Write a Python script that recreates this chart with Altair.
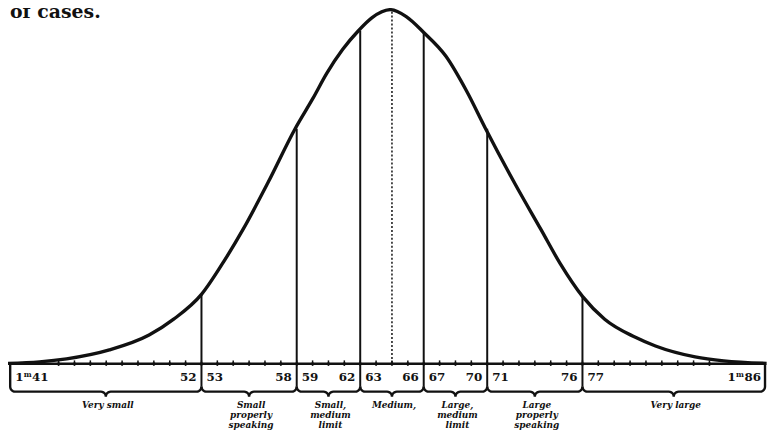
import altair as alt
import pandas as pd
import numpy as np

# ---- data ----
# stature (cm) and relative number of cases (arbitrary units, peak = 357)
curve_v = [140.3, 142.3, 144.0, 146.7, 149.2, 150.75, 152.5, 153.9, 155.1, 156.7,
           158.4, 159.5, 160.4, 161.4, 162.4, 163.25, 164.4, 165.4, 166.5, 167.9,
           169.2, 170.4, 172.3, 173.9, 175.1, 176.5, 177.9, 179.8, 181.1, 183.6,
           185.4, 188.1]
curve_f = [0.5, 2, 5, 14, 29, 45, 70, 103, 135, 183,
           237, 267, 293, 317, 336, 349, 357, 350, 334, 310,
           275, 237, 180, 135, 101, 68, 45, 27, 18, 7,
           3, 0.5]

bounds = [152.5, 158.5, 162.5, 166.5, 170.5, 176.5]
bound_h = [70, 237, 336, 334, 237, 68]
mean_v = 164.5
mean_h = 355
ruler_left, ruler_right = 140.45, 188.0

left_nums = ["52", "58", "62", "66", "70", "76"]
right_nums = ["53", "59", "63", "67", "71", "77"]
end_left, end_right = "1ᵐ41", "1ᵐ86"

group_lines = [["Very small"],
               ["Small", "properly", "speaking"],
               ["Small,", "medium", "limit"],
               ["Medium,"],
               ["Large,", "medium", "limit"],
               ["Large", "properly", "speaking"],
               ["Very large"]]

tick_v = list(np.arange(143.5, 185.0, 1.0))

# ---- scales ----
PX = 16.0  # pixels per cm
xs = alt.Scale(domain=[140.3125, 188.125], nice=False, zero=False)
ys = alt.Scale(domain=[-67, 357], nice=False, zero=False)
X = lambda f="v": alt.X(f"{f}:Q", scale=xs, axis=None)
Y = lambda f="h": alt.Y(f"{f}:Q", scale=ys, axis=None)
INK = "#111111"

curve_df = pd.DataFrame({"v": curve_v, "h": curve_f})
curve = alt.Chart(curve_df).mark_line(color=INK, strokeWidth=3.4, interpolate="monotone").encode(x=X(), y=Y())

# verticals through curve & ruler
vert_df = pd.DataFrame({"v": bounds, "h": bound_h, "h0": [-23] * len(bounds)})
verts = alt.Chart(vert_df).mark_rule(color=INK, strokeWidth=2).encode(x=X(), y=Y(), y2=alt.Y2("h0:Q"))

mean_df = pd.DataFrame({"v": [mean_v], "h": [mean_h], "h0": [0]})
mean_line = alt.Chart(mean_df).mark_rule(color=INK, strokeWidth=1.5, strokeDash=[2, 2]).encode(
    x=X(), y=Y(), y2=alt.Y2("h0:Q"))

# ruler top line
top_df = pd.DataFrame({"v": [ruler_left], "v2": [ruler_right], "h": [0]})
top_line = alt.Chart(top_df).mark_rule(color=INK, strokeWidth=2.5).encode(x=X(), x2=alt.X2("v2:Q"), y=Y())

# ticks
tick_df = pd.DataFrame({"v": tick_v, "h": [3.5] * len(tick_v), "h0": [-2] * len(tick_v), "hc": [0] * len(tick_v)})
ticks = alt.Chart(tick_df).mark_rule(color=INK, strokeWidth=1.5).encode(x=X(), y=Y(), y2=alt.Y2("h0:Q"))
tick_dots = alt.Chart(tick_df).mark_circle(color=INK, size=12, opacity=1).encode(x=X(), y=Y("hc"))

# braces
edges = [ruler_left] + bounds + [ruler_right]
r = 5.0
rv = r / PX
rows = []
for i in range(len(edges) - 1):
    a, b = edges[i], edges[i + 1]
    m = (a + b) / 2
    pts = []
    if i == 0:
        pts.append((a, 0))
    th = np.linspace(np.pi, 1.5 * np.pi, 7)
    pts += [(a + rv + rv * np.cos(t), -23 + r * np.sin(t)) for t in th]
    th = np.linspace(0.5 * np.pi, 0.0, 7)
    pts += [(m - rv + rv * np.cos(t), -33 + r * np.sin(t)) for t in th]
    th = np.linspace(np.pi, 0.5 * np.pi, 7)
    pts += [(m + rv + rv * np.cos(t), -33 + r * np.sin(t)) for t in th]
    th = np.linspace(1.5 * np.pi, 2 * np.pi, 7)
    pts += [(b - rv + rv * np.cos(t), -23 + r * np.sin(t)) for t in th]
    if i == len(edges) - 2:
        pts.append((b, 0))
    for k, (pv, ph) in enumerate(pts):
        rows.append({"v": pv, "h": ph, "seg": i, "o": k})
brace_df = pd.DataFrame(rows)
braces = alt.Chart(brace_df).mark_line(color=INK, strokeWidth=2.4, interpolate="linear").encode(
    x=X(), y=Y(), detail="seg:N", order="o:Q")

# numbers inside ruler
num_font = dict(font="DejaVu Serif", fontWeight="bold", fontSize=12, color=INK, baseline="middle")
ln_df = pd.DataFrame({"v": bounds, "h": [-13] * 6, "t": left_nums})
rn_df = pd.DataFrame({"v": bounds, "h": [-13] * 6, "t": right_nums})
lnum = alt.Chart(ln_df).mark_text(align="right", dx=-5, **num_font).encode(x=X(), y=Y(), text="t:N")
rnum = alt.Chart(rn_df).mark_text(align="left", dx=5, **num_font).encode(x=X(), y=Y(), text="t:N")
e_df = pd.DataFrame({"v": [ruler_left], "h": [-13], "t": [end_left]})
e2_df = pd.DataFrame({"v": [ruler_right], "h": [-13], "t": [end_right]})
enum1 = alt.Chart(e_df).mark_text(align="left", dx=5, **num_font).encode(x=X(), y=Y(), text="t:N")
enum2 = alt.Chart(e2_df).mark_text(align="right", dx=-4, **num_font).encode(x=X(), y=Y(), text="t:N")

# group labels
lab_rows = []
for i, lines in enumerate(group_lines):
    m = (edges[i] + edges[i + 1]) / 2
    for j, t in enumerate(lines):
        lab_rows.append({"v": m, "h": -41 - 10.5 * j, "t": t})
lab_df = pd.DataFrame(lab_rows)
labels = alt.Chart(lab_df).mark_text(font="DejaVu Serif", fontWeight="bold", fontStyle="italic",
                                     fontSize=9, color=INK, baseline="middle", align="center", dx=2).encode(
    x=X(), y=Y(), text="t:N")

# cropped caption fragment at top
cap_df = pd.DataFrame({"v": [140.44], "h": [349], "t": ["of cases."]})
caption = alt.Chart(cap_df).mark_text(font="DejaVu Serif", fontWeight="bold", fontSize=19, color=INK,
                                      align="left", baseline="alphabetic").encode(x=X(), y=Y(), text="t:N")

chart = alt.layer(top_line, ticks, tick_dots, verts, mean_line, curve, braces,
                  lnum, rnum, enum1, enum2, labels, caption).properties(
    width=765, height=424, padding=0, autosize="none", background="white"
).configure_view(stroke=None)

chart.save("out.html", embed_options={"renderer": "svg", "actions": False})
